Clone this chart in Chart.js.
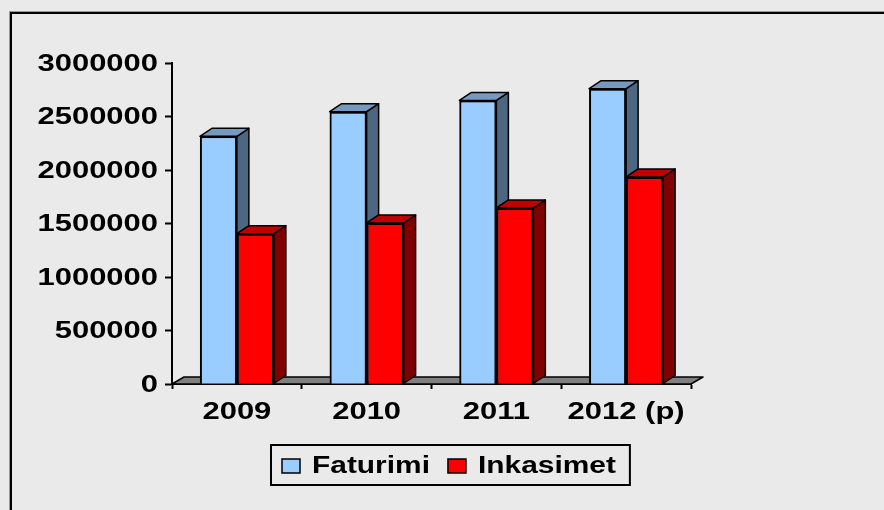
<!DOCTYPE html>
<html>
<head>
<meta charset="utf-8">
<title>Faturimi dhe Inkasimet</title>
<script src="https://cdn.jsdelivr.net/npm/chart.js@4.4.1/dist/chart.umd.min.js"></script>
<style>
    html, body { margin: 0; padding: 0; background: #eaeaea; }
    canvas { display: block; }
</style>
</head>
<body>
<canvas id="chart" width="884" height="510"></canvas>
<script>
// Values
const years = ['2009', '2010', '2011', '2012 (p)'];
const faturimi = [2315000, 2545000, 2650000, 2760000];
const inkasimet = [1405000, 1505000, 1645000, 1935000];
const yTicks = [0, 500000, 1000000, 1500000, 2000000, 2500000, 3000000];

// front, side, top colours of the 3D bars
const blueFaces = ['#99ccff', '#4d6682', '#7699bf'];
const redFaces = ['#ff0000', '#800000', '#c00000'];

const DEPTH_X = 12;
const DEPTH_Y = -8;
const AXIS_FONT = 'bold 24px "Liberation Sans", Arial, sans-serif';
const LEGEND_FONT = 'bold 23px "Liberation Sans", Arial, sans-serif';
const STRETCH = 1.29; // the text in the picture is drawn wide

function wideText(ctx, text, x, y, align, font, stretch) {
    ctx.save();
    ctx.font = font;
    ctx.textAlign = align;
    ctx.textBaseline = 'middle';
    ctx.fillStyle = '#000';
    ctx.translate(x, y);
    ctx.scale(stretch, 1);
    ctx.fillText(text, 0, 0);
    ctx.restore();
}

function poly(ctx, pts, fill, lw) {
    ctx.beginPath();
    ctx.moveTo(pts[0][0], pts[0][1]);
    for (let i = 1; i < pts.length; i++) ctx.lineTo(pts[i][0], pts[i][1]);
    ctx.closePath();
    ctx.fillStyle = fill;
    ctx.fill();
    ctx.lineWidth = lw;
    ctx.strokeStyle = '#000';
    ctx.lineJoin = 'round';
    ctx.stroke();
}

const faces = [blueFaces, redFaces];

const excel3d = {
    id: 'excel3d',
    beforeDraw(chart) {
        const ctx = chart.ctx;
        ctx.save();
        ctx.fillStyle = '#eaeaea';
        ctx.fillRect(0, 0, chart.width, chart.height);
        // outer frame (runs off the right and bottom)
        ctx.strokeStyle = '#9a9a9a';
        ctx.lineWidth = 1;
        ctx.strokeRect(9.5, 11.5, 1000, 1000);
        ctx.strokeStyle = '#000';
        ctx.lineWidth = 2;
        ctx.strokeRect(11, 13, 1000, 1000);
        ctx.restore();
    },
    beforeDatasetsDraw(chart) {
        // the grey floor
        const ctx = chart.ctx;
        const a = chart.chartArea;
        ctx.save();
        poly(ctx, [
            [a.left, a.bottom],
            [a.left + DEPTH_X, a.bottom + DEPTH_Y + 1],
            [a.right + DEPTH_X, a.bottom + DEPTH_Y + 1],
            [a.right, a.bottom]
        ], '#808080', 1.5);
        ctx.restore();
    },
    afterDatasetsDraw(chart) {
        const ctx = chart.ctx;
        ctx.save();
        for (let i = 0; i < chart.data.labels.length; i++) {
            chart.data.datasets.forEach((ds, d) => {
                const bar = chart.getDatasetMeta(d).data[i];
                const p = bar.getProps(['x', 'y', 'base', 'width'], true);
                const left = p.x - p.width / 2;
                const right = p.x + p.width / 2;
                bar.draw(ctx);
                // side face
                poly(ctx, [
                    [right, p.y],
                    [right + DEPTH_X, p.y + DEPTH_Y],
                    [right + DEPTH_X, p.base + DEPTH_Y],
                    [right, p.base]
                ], faces[d][1], 1.5);
                // top face
                poly(ctx, [
                    [left, p.y],
                    [left + DEPTH_X, p.y + DEPTH_Y],
                    [right + DEPTH_X, p.y + DEPTH_Y],
                    [right, p.y]
                ], faces[d][2], 1.5);
            });
        }
        ctx.restore();
    },
    afterDraw(chart) {
        const ctx = chart.ctx;
        const xs = chart.scales.x;
        const ys = chart.scales.y;

        ys.ticks.forEach(t => {
            wideText(ctx, String(t.value), 158, ys.getPixelForValue(t.value) + 1, 'right', AXIS_FONT, STRETCH);
        });
        chart.data.labels.forEach((lab, i) => {
            wideText(ctx, lab, xs.getPixelForValue(i), 412, 'center', AXIS_FONT, STRETCH);
        });

        // legend
        ctx.save();
        ctx.font = LEGEND_FONT;
        let x = 282;
        const items = chart.data.datasets.map(ds => {
            const w = ctx.measureText(ds.label).width * 1.3;
            const item = { x: x, w: w, label: ds.label, color: ds.backgroundColor };
            x += 30 + w + 18;
            return item;
        });
        const boxRight = x - 18 + 14;
        ctx.strokeStyle = '#000';
        ctx.lineWidth = 2;
        ctx.strokeRect(271, 445, boxRight - 271, 40);
        items.forEach(it => {
            ctx.fillStyle = it.color;
            ctx.fillRect(it.x, 459, 18, 14);
            ctx.lineWidth = 1.5;
            ctx.strokeRect(it.x, 459, 18, 14);
            wideText(ctx, it.label, it.x + 30, 467, 'left', LEGEND_FONT, 1.3);
        });
        ctx.restore();
    }
};

new Chart(document.getElementById('chart'), {
    type: 'bar',
    data: {
        labels: years,
        datasets: [
            {
                label: 'Faturimi',
                data: faturimi,
                backgroundColor: blueFaces[0],
                borderColor: '#000',
                borderWidth: 2
            },
            {
                label: 'Inkasimet',
                data: inkasimet,
                backgroundColor: redFaces[0],
                borderColor: '#000',
                borderWidth: 2
            }
        ]
    },
    options: {
        responsive: false,
        animation: false,
        events: [],
        layout: { padding: { left: 0, top: 63, right: 193, bottom: 0 } },
        datasets: { bar: { categoryPercentage: 0.57, barPercentage: 1.0 } },
        plugins: {
            legend: { display: false },
            tooltip: { enabled: false }
        },
        scales: {
            x: {
                ticks: { display: false },
                grid: {
                    offset: true,
                    drawOnChartArea: false,
                    drawTicks: true,
                    tickLength: 5,
                    tickWidth: 2,
                    tickColor: '#000'
                },
                border: { display: true, color: '#000', width: 2 },
                afterFit: scale => { scale.height = 126; }
            },
            y: {
                min: 0,
                max: 3000000,
                ticks: { display: false },
                afterBuildTicks: scale => { scale.ticks = yTicks.map(v => ({ value: v })); },
                grid: {
                    drawOnChartArea: false,
                    drawTicks: true,
                    tickLength: 7,
                    tickWidth: 2,
                    tickColor: '#000'
                },
                border: { display: true, color: '#000', width: 2 },
                afterFit: scale => { scale.width = 172; }
            }
        }
    },
    plugins: [excel3d]
});
</script>
</body>
</html>
